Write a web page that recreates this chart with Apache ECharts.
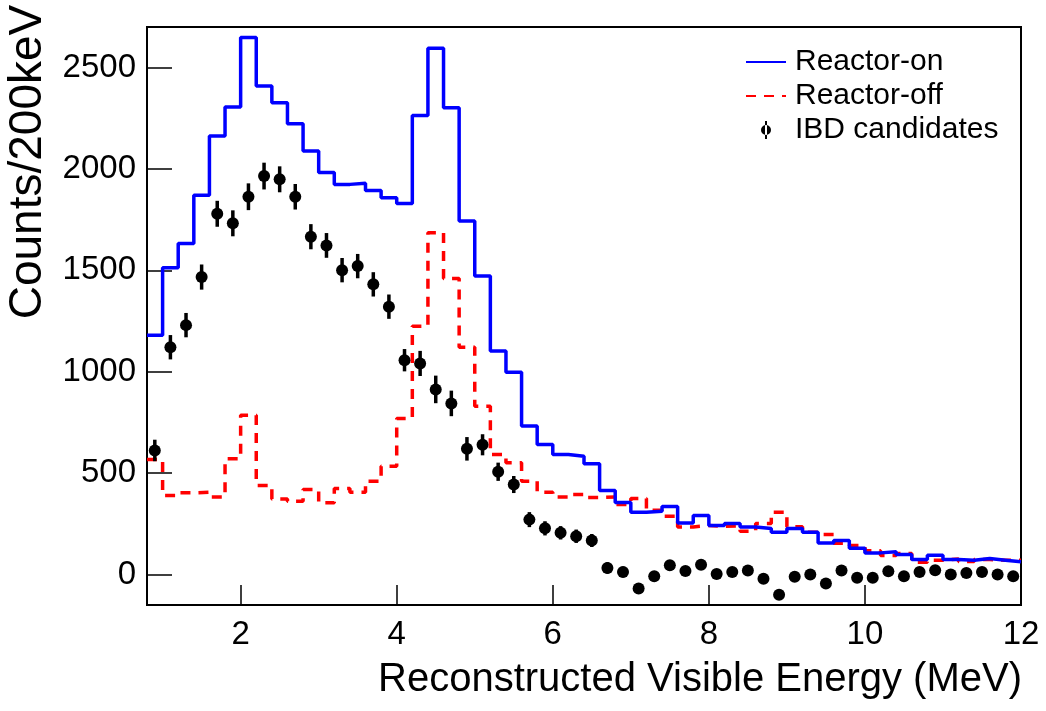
<!DOCTYPE html>
<html>
<head>
<meta charset="utf-8">
<script src="https://cdn.jsdelivr.net/npm/echarts@6/dist/echarts.min.js"></script>
<style>
html,body{margin:0;padding:0;background:#fff;}
#chart{width:1046px;height:711px;}
</style>
</head>
<body>
<div id="chart"></div>
<script>
// Bin edges (MeV), 200 keV bins
var binEdges = [0.8,1.0,1.2,1.4,1.6,1.8,2.0,2.2,2.4,2.6,2.8,3.0,3.2,3.4,3.6,3.8,4.0,4.2,4.4,4.6,4.8,5.0,5.2,5.4,5.6,5.8,6.0,6.2,6.4,6.6,6.8,7.0,7.2,7.4,7.6,7.8,8.0,8.2,8.4,8.6,8.8,9.0,9.2,9.4,9.6,9.8,10.0,10.2,10.4,10.6,10.8,11.0,11.2,11.4,11.6,11.8,12.0];
// Bin centres for IBD candidates
var binCenters = [0.9,1.1,1.3,1.5,1.7,1.9,2.1,2.3,2.5,2.7,2.9,3.1,3.3,3.5,3.7,3.9,4.1,4.3,4.5,4.7,4.9,5.1,5.3,5.5,5.7,5.9,6.1,6.3,6.5,6.7,6.9,7.1,7.3,7.5,7.7,7.9,8.1,8.3,8.5,8.7,8.9,9.1,9.3,9.5,9.7,9.9,10.1,10.3,10.5,10.7,10.9,11.1,11.3,11.5,11.7,11.9];
var reactorOn = [1180,1513,1633,1871,2163,2306,2648,2409,2327,2223,2088,1982,1924,1929,1894,1858,1830,2264,2595,2302,1743,1472,1102,998,732,641,592,584,546,414,355,307,312,336,254,291,242,252,235,227,209,227,209,156,168,130,107,112,99,74,95,74,71,79,71,63];
var reactorOff = [567,390,403,406,383,571,786,439,373,362,419,354,424,406,460,534,770,1225,1686,1460,1121,830,592,551,460,406,383,395,380,383,345,375,317,288,235,242,238,240,214,252,307,236,209,198,155,143,118,94,104,61,71,77,64,74,71,71];
var ibd = [612,1121,1230,1467,1779,1732,1863,1965,1949,1863,1666,1623,1501,1521,1431,1321,1057,1041,913,844,620,640,507,444,271,228,206,189,168,33,13,-69,-8,46,18,49,3,13,20,-20,-99,-11,0,-44,20,-16,-16,16,-8,13,21,0,8,13,0,-8];
var ibdErr = [53,60,60,62,64,64,66,66,64,63,62,61,60,60,60,60,55,62,68,63,58,52,45,42,37,35,33,33,32,28,26,24,24,25,22,23,22,22,21,21,21,21,20,18,18,16,15,15,14,13,14,13,12,13,12,12];
var xTicks = [2,4,6,8,10,12];
var yTicks = [0,500,1000,1500,2000,2500];

function histData(vals){
  var d = [];
  for (var i=0;i<vals.length;i++) d.push([binEdges[i], vals[i]]);
  d.push([binEdges[vals.length], vals[vals.length-1]]);
  return d;
}
var ibdData = binCenters.map(function(x,i){ return [x, ibd[i]]; });
var errData = binCenters.map(function(x,i){ return [x, ibd[i], ibdErr[i]]; });

var font = '"Liberation Sans", Arial, Helvetica, sans-serif';
var chart = echarts.init(document.getElementById('chart'), null, {renderer:'canvas'});
chart.setOption({
  animation:false,
  backgroundColor:'#fff',
  grid:{left:147, right:25, top:27, bottom:106, containLabel:false, outerBoundsMode:'none',
        show:true, borderColor:'#000', borderWidth:2, backgroundColor:'transparent'},
  legend:{
    orient:'vertical', left:740, top:40,
    itemWidth:40, itemHeight:18, itemGap:0,
    textStyle:{fontFamily:font, fontSize:30, color:'#000', lineHeight:34, padding:[0,0,0,4]},
    data:[
      {name:'Reactor-on', itemStyle:{opacity:0}},
      {name:'Reactor-off', itemStyle:{opacity:0}},
      {name:'IBD candidates', icon:'path://M19,0 L21,0 L21,18 L19,18 Z M15,9 A5,5 0 1,0 25,9 A5,5 0 1,0 15,9 Z', itemStyle:{color:'#000'}}
    ]
  },
  xAxis:{
    type:'value', min:0.8, max:12,
    axisLine:{show:true, onZero:false, lineStyle:{color:'#000', width:2}},
    axisTick:{show:true, inside:true, length:20, customValues:xTicks, lineStyle:{color:'#000', width:1.5}},
    axisLabel:{show:true, customValues:xTicks, fontFamily:font, fontSize:33, color:'#000', margin:13,
               formatter:function(v){ return String(v); }},
    splitLine:{show:false},
    name:'Reconstructed Visible Energy (MeV)', nameLocation:'middle', nameGap:75,
    nameTextStyle:{fontFamily:font, fontSize:40, color:'#000', verticalAlign:'middle', padding:[0,0,0,232]}
  },
  yAxis:{
    type:'value', min:-150, max:2700,
    axisLine:{show:true, onZero:false, lineStyle:{color:'#000', width:2}},
    axisTick:{show:true, inside:true, length:25, customValues:yTicks, lineStyle:{color:'#000', width:1.5}},
    axisLabel:{show:true, customValues:yTicks, fontFamily:font, fontSize:33, color:'#000', margin:11,
               formatter:function(v){ return String(v); }},
    splitLine:{show:false},
    name:'Counts/200keV', nameLocation:'middle', nameGap:95, nameRotate:90,
    nameTextStyle:{fontFamily:font, fontSize:46, color:'#000', padding:[0,0,0,308]}
  },
  series:[
    {name:'Reactor-on', type:'line', step:'end', data:histData(reactorOn), symbol:'none',
     lineStyle:{color:'#0000ff', width:3.5}, itemStyle:{color:'#0000ff'}, z:3},
    {name:'Reactor-off', type:'line', step:'end', data:histData(reactorOff), symbol:'none',
     lineStyle:{color:'#ff0000', width:3.5, type:[10,8]}, itemStyle:{color:'#ff0000'}, z:2},
    {name:'IBD candidates', type:'custom', data:errData, z:4,
     renderItem:function(params, api){
       var x = api.value(0), v = api.value(1), e = api.value(2);
       var p1 = api.coord([x, v-e]), p2 = api.coord([x, v+e]);
       return {type:'line', shape:{x1:p1[0], y1:p1[1], x2:p2[0], y2:p2[1]}, style:{stroke:'#000', lineWidth:3.5}};
     }, itemStyle:{color:'#000'}},
    {name:'IBD candidates', type:'scatter', data:ibdData, symbol:'circle', symbolSize:12,
     itemStyle:{color:'#000', opacity:1}, z:5}
  ]
});
</script>
</body>
</html>
